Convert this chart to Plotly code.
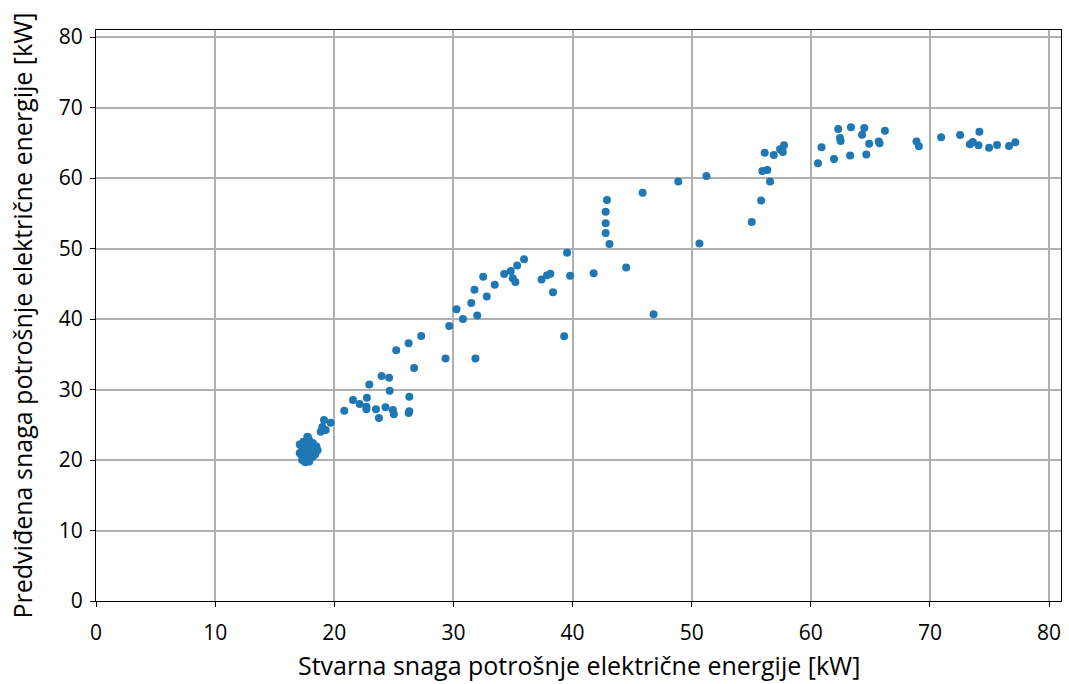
import plotly.graph_objects as go

# Actual power [kW]
actual = [
    17.1, 17.3, 17.2, 17.4, 17.5, 17.7, 17.9, 18.0, 17.6, 17.8, 18.1, 18.3, 18.5, 18.2,
    17.9, 17.6, 17.4, 17.8, 18.0, 17.5, 18.4, 18.2, 17.3, 17.7, 17.1, 18.6, 17.9, 17.6,
    17.74, 18.86, 19.0, 19.28, 19.14, 19.7,
    20.84, 21.57, 22.13, 22.7, 22.7, 22.74, 22.94, 23.5, 23.75, 23.97, 24.3, 24.6, 24.65,
    24.92, 25.0, 25.2, 26.24, 26.24, 26.3, 26.3, 26.7, 27.3, 29.34, 29.65, 30.26, 30.8,
    31.5, 31.77, 31.85, 32.0, 32.5, 32.8, 33.47, 34.26, 34.81, 34.98, 35.2, 35.35, 35.93,
    37.4, 37.86, 38.14, 38.36, 39.3, 39.54, 39.8, 41.77, 42.78, 42.78, 42.78, 42.89, 43.1,
    44.5, 45.88, 46.8, 48.87, 50.65, 51.24, 55.04, 55.83, 55.93, 56.35, 56.58, 56.13,
    56.89, 57.42, 57.75, 57.65, 60.6, 60.9, 61.95, 62.3, 62.45, 62.5, 63.3, 63.37, 64.49,
    64.3, 64.66, 64.9, 65.7, 65.77, 66.22, 68.87, 69.07, 70.94, 72.53, 74.15, 73.35,
    73.6, 74.07, 74.96, 75.63, 76.64, 77.17,
]

# Predicted power [kW]
predicted = [
    22.2, 21.5, 20.8, 20.2, 19.8, 19.9, 19.8, 20.3, 20.6, 21.0, 21.2, 21.6, 21.9, 22.4,
    22.8, 22.3, 22.6, 23.2, 22.0, 21.2, 20.8, 20.5, 20.0, 21.7, 21.0, 21.4, 20.0, 19.7,
    23.3, 24.0, 24.7, 24.26, 25.67, 25.3,
    27.0, 28.5, 27.94, 27.56, 27.19, 28.84, 30.7, 27.2, 25.96, 31.9, 27.47, 31.67, 29.83,
    27.1, 26.5, 35.56, 36.55, 26.67, 28.98, 26.9, 33.05, 37.6, 34.4, 39.0, 41.4, 40.0,
    42.27, 44.16, 34.4, 40.5, 46.0, 43.2, 44.87, 46.4, 46.8, 45.8, 45.25, 47.6, 48.47,
    45.6, 46.2, 46.43, 43.8, 37.55, 49.4, 46.15, 46.5, 55.2, 53.6, 52.2, 56.88, 50.64,
    47.3, 57.9, 40.67, 59.5, 50.7, 60.3, 53.76, 56.8, 61.0, 61.13, 59.5, 63.6,
    63.26, 64.07, 64.64, 63.7, 62.08, 64.36, 62.7, 66.95, 65.67, 65.25, 63.2, 67.19, 67.1,
    66.15, 63.35, 64.86, 65.2, 64.92, 66.7, 65.2, 64.5, 65.8, 66.1, 66.57, 64.8,
    65.1, 64.64, 64.3, 64.68, 64.54, 65.06,
]

x_ticks = [0, 10, 20, 30, 40, 50, 60, 70, 80]
y_ticks = [0, 10, 20, 30, 40, 50, 60, 70, 80]

x_title = "Stvarna snaga potrošnje električne energije [kW]"
y_title = "Predviđena snaga potrošnje električne energije [kW]"

FONT = "Open Sans"

fig = go.Figure(
    go.Scatter(
        x=actual, y=predicted, mode="markers",
        marker=dict(color="#1f77b4", size=8, line=dict(width=0)),
    )
)

axis_common = dict(
    showgrid=True, gridcolor="#b0b0b0", gridwidth=1.5,
    showline=True, linecolor="black", linewidth=1.3, mirror=True,
    ticks="outside", ticklen=5, tickwidth=1.2, tickcolor="black",
    zeroline=False,
    tickfont=dict(family=FONT, size=21, color="black"),
)

fig.update_xaxes(range=[0, 81], tickvals=x_ticks, ticklabelstandoff=8, **axis_common)
fig.update_yaxes(range=[0, 81], tickvals=y_ticks, ticklabelstandoff=3, **axis_common)

fig.add_annotation(
    text=x_title, xref="paper", yref="paper", x=0.5, y=-0.112,
    xanchor="center", yanchor="middle", showarrow=False,
    font=dict(family=FONT, size=25, color="black"),
)
fig.add_annotation(
    text=y_title, xref="paper", yref="paper", x=-0.0767, y=0.5,
    xanchor="center", yanchor="middle", textangle=-90, showarrow=False,
    font=dict(family=FONT, size=25, color="black"),
)

fig.update_layout(
    width=1069, height=684,
    margin=dict(l=96, r=8, t=30, b=83),
    plot_bgcolor="white", paper_bgcolor="white",
    showlegend=False,
)

fig.write_html(
    "out.html",
    config={"displayModeBar": False},
    post_script="document.body.style.margin='0';document.body.style.overflow='hidden';",
)
